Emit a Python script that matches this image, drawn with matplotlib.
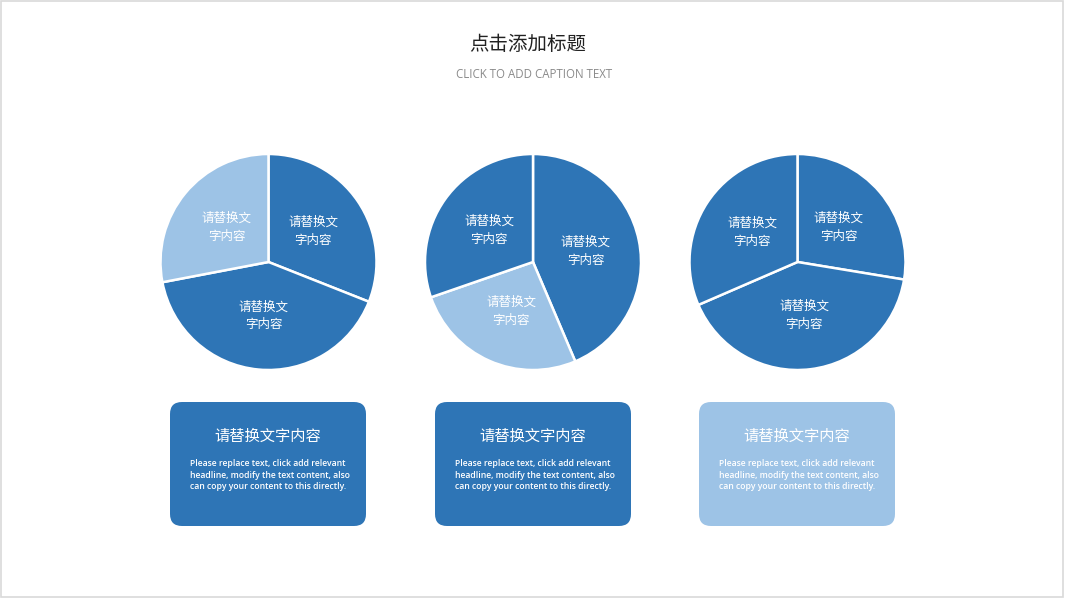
import matplotlib
matplotlib.use("Agg")
import matplotlib.pyplot as plt
from matplotlib.patches import FancyBboxPatch, Rectangle

plt.rcParams['font.family'] = ['Noto Sans CJK SC', 'DejaVu Sans']

DARK = '#2E75B6'
LIGHT = '#9DC3E6'

title = '点击添加标题'
subtitle = 'CLICK TO ADD CAPTION TEXT'
slice_label = '请替换文\n字内容'
box_title = '请替换文字内容'
box_body = ('Please replace text, click add relevant\n'
            'headline, modify the text content, also\n'
            'can copy your content to this directly.')

# slice shares, clockwise from 12 o'clock
pie1_values = [31, 41, 28]
pie1_colors = [DARK, DARK, LIGHT]
pie2_values = [43.6, 26.1, 30.3]
pie2_colors = [DARK, LIGHT, DARK]
pie3_values = [27.6, 40.9, 31.5]
pie3_colors = [DARK, DARK, DARK]
box_colors = [DARK, DARK, LIGHT]

W, H = 1067, 600
fig = plt.figure(figsize=(W / 100, H / 100), dpi=100)
ax = fig.add_axes([0, 0, 1, 1])

def py(y):
    # pixel row from top -> axes y
    return H - y

pies = [(pie1_values, pie1_colors, 268.5),
        (pie2_values, pie2_colors, 533),
        (pie3_values, pie3_colors, 797.5)]

for values, colors, cx in pies:
    ax.pie(values, colors=colors, startangle=90, counterclock=False,
           center=(cx, py(262)), radius=108,
           wedgeprops=dict(edgecolor='white', linewidth=1.8),
           autopct=lambda p: slice_label, pctdistance=0.5,
           textprops=dict(color='white', fontsize=9, linespacing=1.5))

box_x = [170, 435, 699]
for x0, c in zip(box_x, box_colors):
    ax.add_patch(FancyBboxPatch((x0 + 12, py(526) + 12), 196 - 24, 124 - 24,
                                boxstyle='round,pad=12', facecolor=c,
                                edgecolor='none'))
    ax.text(x0 + 98, py(436), box_title, ha='center', va='center',
            color='white', fontsize=11)
    ax.text(x0 + 20, py(475), box_body, ha='left', va='center',
            color='white', fontsize=6.2, linespacing=1.42,
            family=['Open Sans', 'DejaVu Sans'], fontweight='semibold')

ax.text(528, py(44), title, ha='center', va='center', fontsize=14,
        color='#222222')
ax.text(534, py(75), subtitle, ha='center', va='center', fontsize=8.3,
        color='#8a8a8a', family=['Open Sans', 'DejaVu Sans'])

ax.add_patch(Rectangle((1, py(597)), 1062, 596, facecolor='none',
                       edgecolor='#d9d9d9', linewidth=1.2))

ax.set_xlim(0, W)
ax.set_ylim(0, H)
ax.set_aspect('equal')
ax.axis('off')

fig.savefig('out.png', dpi=100, facecolor='white')
